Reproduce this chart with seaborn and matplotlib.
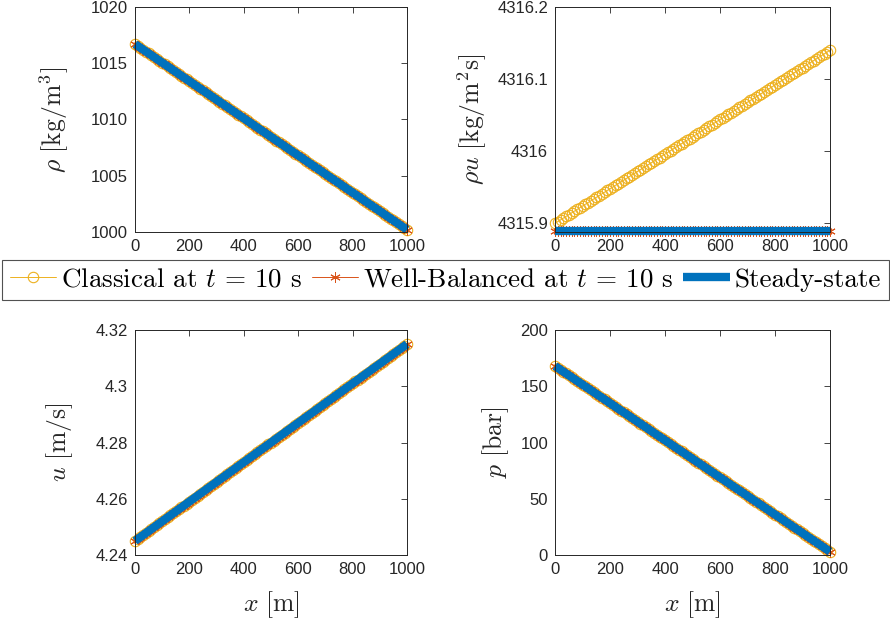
import matplotlib
matplotlib.use("Agg")
import matplotlib.pyplot as plt
import pandas as pd
import seaborn as sns

# ---------------- data ----------------
x_m = [0, 10, 20, 30, 40, 50, 60, 70, 80, 90,
       100, 110, 120, 130, 140, 150, 160, 170, 180, 190,
       200, 210, 220, 230, 240, 250, 260, 270, 280, 290,
       300, 310, 320, 330, 340, 350, 360, 370, 380, 390,
       400, 410, 420, 430, 440, 450, 460, 470, 480, 490,
       500, 510, 520, 530, 540, 550, 560, 570, 580, 590,
       600, 610, 620, 630, 640, 650, 660, 670, 680, 690,
       700, 710, 720, 730, 740, 750, 760, 770, 780, 790,
       800, 810, 820, 830, 840, 850, 860, 870, 880, 890,
       900, 910, 920, 930, 940, 950, 960, 970, 980, 990, 1000]

rho = [1016.70, 1016.54, 1016.37, 1016.21, 1016.04, 1015.88, 1015.71, 1015.55, 1015.38, 1015.22,
       1015.05, 1014.89, 1014.72, 1014.56, 1014.39, 1014.23, 1014.06, 1013.90, 1013.73, 1013.57,
       1013.40, 1013.24, 1013.07, 1012.91, 1012.74, 1012.58, 1012.41, 1012.25, 1012.08, 1011.92,
       1011.75, 1011.59, 1011.42, 1011.26, 1011.09, 1010.93, 1010.76, 1010.60, 1010.43, 1010.27,
       1010.10, 1009.94, 1009.77, 1009.61, 1009.44, 1009.28, 1009.11, 1008.95, 1008.78, 1008.62,
       1008.45, 1008.29, 1008.12, 1007.96, 1007.79, 1007.63, 1007.46, 1007.30, 1007.13, 1006.97,
       1006.80, 1006.64, 1006.47, 1006.31, 1006.14, 1005.98, 1005.81, 1005.65, 1005.48, 1005.32,
       1005.15, 1004.99, 1004.82, 1004.66, 1004.49, 1004.33, 1004.16, 1004.00, 1003.83, 1003.67,
       1003.50, 1003.34, 1003.17, 1003.01, 1002.84, 1002.68, 1002.51, 1002.35, 1002.18, 1002.02,
       1001.85, 1001.69, 1001.52, 1001.36, 1001.19, 1001.03, 1000.86, 1000.70, 1000.53, 1000.37, 1000.20]

rhou_classical = [4315.9000, 4315.9024, 4315.9048, 4315.9072, 4315.9096, 4315.9120, 4315.9144, 4315.9168, 4315.9192, 4315.9216,
                  4315.9240, 4315.9264, 4315.9288, 4315.9312, 4315.9336, 4315.9360, 4315.9384, 4315.9408, 4315.9432, 4315.9456,
                  4315.9480, 4315.9504, 4315.9528, 4315.9552, 4315.9576, 4315.9600, 4315.9624, 4315.9648, 4315.9672, 4315.9696,
                  4315.9720, 4315.9744, 4315.9768, 4315.9792, 4315.9816, 4315.9840, 4315.9864, 4315.9888, 4315.9912, 4315.9936,
                  4315.9960, 4315.9984, 4316.0008, 4316.0032, 4316.0056, 4316.0080, 4316.0104, 4316.0128, 4316.0152, 4316.0176,
                  4316.0200, 4316.0224, 4316.0248, 4316.0272, 4316.0296, 4316.0320, 4316.0344, 4316.0368, 4316.0392, 4316.0416,
                  4316.0440, 4316.0464, 4316.0488, 4316.0512, 4316.0536, 4316.0560, 4316.0584, 4316.0608, 4316.0632, 4316.0656,
                  4316.0680, 4316.0704, 4316.0728, 4316.0752, 4316.0776, 4316.0800, 4316.0824, 4316.0848, 4316.0872, 4316.0896,
                  4316.0920, 4316.0944, 4316.0968, 4316.0992, 4316.1016, 4316.1040, 4316.1064, 4316.1088, 4316.1112, 4316.1136,
                  4316.1160, 4316.1184, 4316.1208, 4316.1232, 4316.1256, 4316.1280, 4316.1304, 4316.1328, 4316.1352, 4316.1376, 4316.1400]

rhou_balanced = [4315.89, 4315.89, 4315.89, 4315.89, 4315.89, 4315.89, 4315.89, 4315.89, 4315.89, 4315.89,
                 4315.89, 4315.89, 4315.89, 4315.89, 4315.89, 4315.89, 4315.89, 4315.89, 4315.89, 4315.89,
                 4315.89, 4315.89, 4315.89, 4315.89, 4315.89, 4315.89, 4315.89, 4315.89, 4315.89, 4315.89,
                 4315.89, 4315.89, 4315.89, 4315.89, 4315.89, 4315.89, 4315.89, 4315.89, 4315.89, 4315.89,
                 4315.89, 4315.89, 4315.89, 4315.89, 4315.89, 4315.89, 4315.89, 4315.89, 4315.89, 4315.89,
                 4315.89, 4315.89, 4315.89, 4315.89, 4315.89, 4315.89, 4315.89, 4315.89, 4315.89, 4315.89,
                 4315.89, 4315.89, 4315.89, 4315.89, 4315.89, 4315.89, 4315.89, 4315.89, 4315.89, 4315.89,
                 4315.89, 4315.89, 4315.89, 4315.89, 4315.89, 4315.89, 4315.89, 4315.89, 4315.89, 4315.89,
                 4315.89, 4315.89, 4315.89, 4315.89, 4315.89, 4315.89, 4315.89, 4315.89, 4315.89, 4315.89,
                 4315.89, 4315.89, 4315.89, 4315.89, 4315.89, 4315.89, 4315.89, 4315.89, 4315.89, 4315.89, 4315.89]

rhou_steady = rhou_balanced

u = [4.2450, 4.2457, 4.2464, 4.2471, 4.2478, 4.2485, 4.2492, 4.2499, 4.2506, 4.2513,
     4.2520, 4.2527, 4.2534, 4.2541, 4.2548, 4.2555, 4.2562, 4.2569, 4.2576, 4.2583,
     4.2590, 4.2597, 4.2604, 4.2611, 4.2618, 4.2625, 4.2632, 4.2639, 4.2646, 4.2653,
     4.2660, 4.2667, 4.2674, 4.2681, 4.2688, 4.2695, 4.2702, 4.2709, 4.2716, 4.2723,
     4.2730, 4.2737, 4.2744, 4.2751, 4.2758, 4.2765, 4.2772, 4.2779, 4.2786, 4.2793,
     4.2800, 4.2807, 4.2814, 4.2821, 4.2828, 4.2835, 4.2842, 4.2849, 4.2856, 4.2863,
     4.2870, 4.2877, 4.2884, 4.2891, 4.2898, 4.2905, 4.2912, 4.2919, 4.2926, 4.2933,
     4.2940, 4.2947, 4.2954, 4.2961, 4.2968, 4.2975, 4.2982, 4.2989, 4.2996, 4.3003,
     4.3010, 4.3017, 4.3024, 4.3031, 4.3038, 4.3045, 4.3052, 4.3059, 4.3066, 4.3073,
     4.3080, 4.3087, 4.3094, 4.3101, 4.3108, 4.3115, 4.3122, 4.3129, 4.3136, 4.3143, 4.3150]

p_bar = [168.00, 166.35, 164.70, 163.05, 161.40, 159.75, 158.10, 156.45, 154.80, 153.15,
         151.50, 149.85, 148.20, 146.55, 144.90, 143.25, 141.60, 139.95, 138.30, 136.65,
         135.00, 133.35, 131.70, 130.05, 128.40, 126.75, 125.10, 123.45, 121.80, 120.15,
         118.50, 116.85, 115.20, 113.55, 111.90, 110.25, 108.60, 106.95, 105.30, 103.65,
         102.00, 100.35, 98.70, 97.05, 95.40, 93.75, 92.10, 90.45, 88.80, 87.15,
         85.50, 83.85, 82.20, 80.55, 78.90, 77.25, 75.60, 73.95, 72.30, 70.65,
         69.00, 67.35, 65.70, 64.05, 62.40, 60.75, 59.10, 57.45, 55.80, 54.15,
         52.50, 50.85, 49.20, 47.55, 45.90, 44.25, 42.60, 40.95, 39.30, 37.65,
         36.00, 34.35, 32.70, 31.05, 29.40, 27.75, 26.10, 24.45, 22.80, 21.15,
         19.50, 17.85, 16.20, 14.55, 12.90, 11.25, 9.60, 7.95, 6.30, 4.65, 3.00]

x_ticks = [0, 200, 400, 600, 800, 1000]
rho_ticks = [1000, 1005, 1010, 1015, 1020]
rhou_ticks = [4315.9, 4316.0, 4316.1, 4316.2]
rhou_ticklabels = ["4315.9", "4316", "4316.1", "4316.2"]
u_ticks = [4.24, 4.26, 4.28, 4.30, 4.32]
u_ticklabels = ["4.24", "4.26", "4.28", "4.3", "4.32"]
p_ticks = [0, 50, 100, 150, 200]

legend_labels = ["Classical at $t$ = 10 s",
                 "Well-Balanced at $t$ = 10 s",
                 "Steady-state"]

# ---------------- style ----------------
sns.set_theme(style="white")
plt.rcParams["font.family"] = ["Liberation Sans", "DejaVu Sans"]
plt.rcParams["mathtext.fontset"] = "cm"
plt.rcParams["axes.unicode_minus"] = False

C_CL = "#EDB120"
C_WB = "#D95319"
C_SS = "#0072BD"
DARK = "#262626"

df = pd.DataFrame({
    "x": x_m,
    "rho": rho,
    "rhou_cl": rhou_classical,
    "rhou_wb": rhou_balanced,
    "rhou_ss": rhou_steady,
    "u": u,
    "p": p_bar,
})

fig = plt.figure(figsize=(8.9, 6.18), dpi=100)

H = 0.3641
panels = [
    ("rho", ("rho", "rho", "rho"), [0.1517, 0.6246, 0.3056, H], (1000, 1020), rho_ticks, None,
     r"$\rho\ [\mathrm{kg/m^3}]$", -0.235, False),
    ("rhou", ("rhou_cl", "rhou_wb", "rhou_ss"), [0.6236, 0.6246, 0.3090, H], (4315.888, 4316.2), rhou_ticks,
     rhou_ticklabels, r"$\rho u\ [\mathrm{kg/m^2s}]$", -0.24, False),
    ("u", ("u", "u", "u"), [0.1517, 0.1019, 0.3056, H], (4.24, 4.32), u_ticks, u_ticklabels,
     r"$u\ [\mathrm{m/s}]$", -0.22, True),
    ("p", ("p", "p", "p"), [0.6236, 0.1019, 0.3090, H], (0, 200), p_ticks, None,
     r"$p\ [\mathrm{bar}]$", -0.16, True),
]

handles = None
for key, cols, rect, ylim, yt, ytl, ylab, ylx, showx in panels:
    ax = fig.add_axes(rect)
    sns.lineplot(data=df, x="x", y=cols[0], ax=ax, color=C_CL, lw=0.7,
                 marker="o", markersize=7.5, markerfacecolor="none",
                 markeredgecolor=C_CL, markeredgewidth=0.8, clip_on=False,
                 sort=False, label=legend_labels[0])
    sns.lineplot(data=df, x="x", y=cols[1], ax=ax, color=C_WB, lw=0.7,
                 marker=(6, 2, 0), markersize=7.5, markeredgecolor=C_WB,
                 markeredgewidth=0.7, clip_on=False, sort=False,
                 label=legend_labels[1])
    sns.lineplot(data=df, x="x", y=cols[2], ax=ax, color=C_SS, lw=6,
                 solid_capstyle="butt", clip_on=False, sort=False,
                 label=legend_labels[2])
    if ax.get_legend() is not None:
        ax.get_legend().remove()
    if key == "rhou":
        handles = ax.get_lines()[:3]

    ax.set_xlim(0, 1000)
    ax.set_xticks(x_ticks)
    ax.set_ylim(*ylim)
    ax.set_yticks(yt)
    if ytl is not None:
        ax.set_yticklabels(ytl)
    ax.tick_params(direction="in", length=4, width=0.6, top=True, right=True,
                   labelsize=12, labelcolor=DARK, color=DARK, pad=5)
    for sp in ax.spines.values():
        sp.set_color(DARK)
        sp.set_linewidth(0.7)
        sp.set_visible(True)
    ax.set_ylabel(ylab, fontsize=18.5, color=DARK)
    ax.yaxis.set_label_coords(ylx, 0.5)
    if showx:
        ax.set_xlabel(r"$x\ [\mathrm{m}]$", fontsize=18.5, color=DARK)
        ax.xaxis.set_label_coords(0.5, -0.15)
    else:
        ax.set_xlabel("")

leg = fig.legend(handles, legend_labels, loc="center",
                 bbox_to_anchor=(0.5006, 0.547), ncol=3, frameon=True,
                 fancybox=False, edgecolor=DARK, numpoints=1,
                 prop={"family": "cmr10", "size": 19.5},
                 handlelength=1.7, handletextpad=0.2, columnspacing=0.35,
                 borderpad=0.3, borderaxespad=0)
leg.get_frame().set_linewidth(0.8)
for t in leg.get_texts():
    t.set_color("black")

fig.savefig("out.png", dpi=100)
